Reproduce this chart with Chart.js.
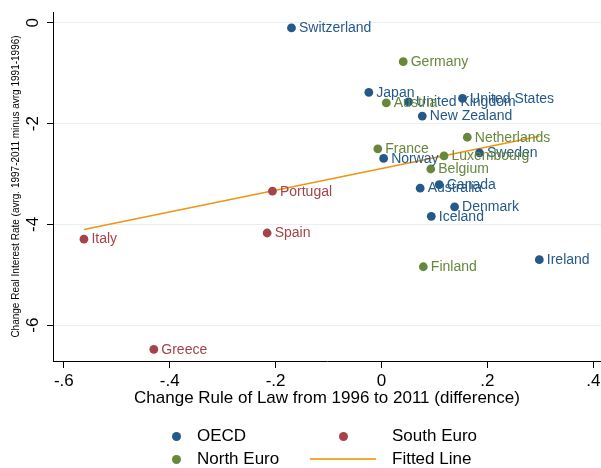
<!DOCTYPE html>
<html>
<head>
<meta charset="utf-8">
<script src="https://cdn.jsdelivr.net/npm/chart.js@4.4.0/dist/chart.umd.min.js"></script>
<style>
    body { margin: 0; background: #fff; }
    #wrap { position: relative; width: 601px; height: 468px; }
    #legend { position: absolute; left: 0; top: 0; width: 601px; height: 468px; pointer-events: none;
        font: 17px "Liberation Sans", Arial, sans-serif; color: #000; }
    .lg-text { position: absolute; line-height: 20px; height: 20px; white-space: nowrap; }
    .lg-dot { position: absolute; width: 9px; height: 9px; border-radius: 50%; }
    .lg-line { position: absolute; height: 2px; }
</style>
</head>
<body>
<div id="wrap">
    <canvas id="chart"></canvas>
    <div id="legend"></div>
</div>
<script>
const FONT = '"Liberation Sans", Arial, sans-serif';

// OECD
const oecdNames = ["Switzerland", "Japan", "United Kingdom", "United States", "New Zealand", "Norway",
    "Sweden", "Canada", "Australia", "Denmark", "Iceland", "Ireland"];
const oecdX = [-0.170, -0.024, 0.051, 0.153, 0.077, 0.004, 0.185, 0.109, 0.073, 0.138, 0.094, 0.298];
const oecdY = [-0.10, -1.38, -1.57, -1.50, -1.85, -2.69, -2.58, -3.21, -3.28, -3.65, -3.84, -4.70];

// South Euro
const southNames = ["Portugal", "Spain", "Italy", "Greece"];
const southX = [-0.206, -0.216, -0.562, -0.430];
const southY = [-3.34, -4.17, -4.29, -6.48];

// North Euro
const northNames = ["Germany", "Austria", "Netherlands", "France", "Luxembourg", "Belgium", "Finland"];
const northX = [0.041, 0.009, 0.162, -0.007, 0.118, 0.093, 0.079];
const northY = [-0.77, -1.59, -2.27, -2.50, -2.64, -2.90, -4.84];

// fitted line end points
const fitX = [-0.562, 0.298];
const fitY = [-4.10, -2.25];

const xTicks = [-0.6, -0.4, -0.2, 0, 0.2, 0.4];
const yTicks = [-6, -4, -2, 0];

const BLUE = "#24598a";
const RED = "#a4434a";
const GREEN = "#67883b";
const ORANGE = "#ef9415";

const pts = (xs, ys) => xs.map((x, i) => ({x, y: ys[i]}));

const fmtX = v => {
    if (Math.abs(v) < 1e-9) return "0";
    return v.toFixed(1).replace("0.", ".");
};

const pointLabels = {
    id: "pointLabels",
    afterDatasetsDraw(chart) {
        const ctx = chart.ctx;
        ctx.save();
        ctx.font = "14px " + FONT;
        ctx.textBaseline = "middle";
        ctx.textAlign = "left";
        chart.data.datasets.forEach((ds, di) => {
            if (!ds.names) return;
            const meta = chart.getDatasetMeta(di);
            ctx.fillStyle = ds.labelColor;
            meta.data.forEach((el, i) => {
                ctx.fillText(ds.names[i], el.x + 7.5, el.y + 0.5);
            });
        });
        ctx.restore();
    }
};

const yTickLabels = {
    id: "yTickLabels",
    afterDraw(chart) {
        const sc = chart.scales.y;
        const ctx = chart.ctx;
        ctx.save();
        ctx.font = "17px " + FONT;
        ctx.fillStyle = "#000";
        ctx.textAlign = "center";
        ctx.textBaseline = "middle";
        yTicks.forEach(v => {
            const py = sc.getPixelForValue(v);
            ctx.save();
            ctx.translate(33, py);
            ctx.rotate(-Math.PI / 2);
            ctx.fillText(String(v), 0, 0);
            ctx.restore();
        });
        ctx.restore();
    }
};

new Chart(document.getElementById("chart"), {
    type: "scatter",
    data: {
        datasets: [
            {label: "OECD", names: oecdNames, labelColor: BLUE, data: pts(oecdX, oecdY),
                backgroundColor: BLUE, borderWidth: 0, pointRadius: 4.4},
            {label: "South Euro", names: southNames, labelColor: RED, data: pts(southX, southY),
                backgroundColor: RED, borderWidth: 0, pointRadius: 4.4},
            {label: "North Euro", names: northNames, labelColor: GREEN, data: pts(northX, northY),
                backgroundColor: GREEN, borderWidth: 0, pointRadius: 4.4},
            {label: "Fitted Line", type: "line", data: pts(fitX, fitY), showLine: true,
                borderColor: ORANGE, borderWidth: 1.6, pointRadius: 0, fill: false}
        ]
    },
    options: {
        responsive: true,
        maintainAspectRatio: false,
        animation: false,
        layout: {autoPadding: false, padding: {top: 12, right: 0, bottom: 61, left: 0}},
        plugins: {legend: {display: false}, tooltip: {enabled: false}},
        scales: {
            x: {
                type: "linear",
                min: -0.6204,
                max: 0.4145,
                afterFit: s => { s.height = 46; s.paddingLeft = 0; s.paddingRight = 0; },
                afterBuildTicks: s => { s.ticks = xTicks.map(v => ({value: v})); },
                grid: {drawOnChartArea: false, tickLength: 7, tickColor: "#000"},
                border: {color: "#000", width: 1},
                ticks: {callback: fmtX, color: "#000", padding: 3, font: {family: FONT, size: 17}, maxRotation: 0, autoSkip: false},
                title: {display: true, text: "Change Rule of Law from 1996 to 2011 (difference)", color: "#000",
                    font: {family: FONT, size: 17, lineHeight: 1}, padding: {top: 0, bottom: 0}}
            },
            y: {
                type: "linear",
                min: -6.71,
                max: 0.215,
                afterFit: s => { s.width = 53; s.paddingTop = 0; s.paddingBottom = 0; },
                afterBuildTicks: s => { s.ticks = yTicks.map(v => ({value: v})); },
                grid: {color: "#e8f0f2", lineWidth: 1, tickLength: 6, tickColor: "#000"},
                border: {color: "#000", width: 1},
                ticks: {display: false},
                title: {display: true, text: "Change Real Interest Rate (avrg. 1997-2011 minus avrg 1991-1996)", color: "#000",
                    font: {family: FONT, size: 10, lineHeight: 1}, padding: {top: 11, bottom: 0}}
            }
        }
    },
    plugins: [pointLabels, yTickLabels]
});

// legend, 2 x 2 grid under the plot
const legendItems = [
    {text: "OECD", color: BLUE, kind: "dot", col: 0, row: 0},
    {text: "South Euro", color: RED, kind: "dot", col: 1, row: 0},
    {text: "North Euro", color: GREEN, kind: "dot", col: 0, row: 1},
    {text: "Fitted Line", color: "#f0a935", kind: "line", col: 1, row: 1}
];
const colMark = [176, 343];
const colText = [197, 392];
const rowY = [436, 459];
const legend = document.getElementById("legend");
legendItems.forEach(it => {
    const cy = rowY[it.row];
    const m = document.createElement("div");
    if (it.kind === "dot") {
        m.className = "lg-dot";
        m.style.left = (colMark[it.col] - 4.5) + "px";
        m.style.top = (cy - 4.5) + "px";
    } else {
        m.className = "lg-line";
        m.style.left = (colMark[it.col] - 33) + "px";
        m.style.width = "66px";
        m.style.top = (cy - 1) + "px";
    }
    m.style.background = it.color;
    legend.appendChild(m);
    const t = document.createElement("div");
    t.className = "lg-text";
    t.textContent = it.text;
    t.style.left = colText[it.col] + "px";
    t.style.top = (cy - 10) + "px";
    legend.appendChild(t);
});
</script>
</body>
</html>
